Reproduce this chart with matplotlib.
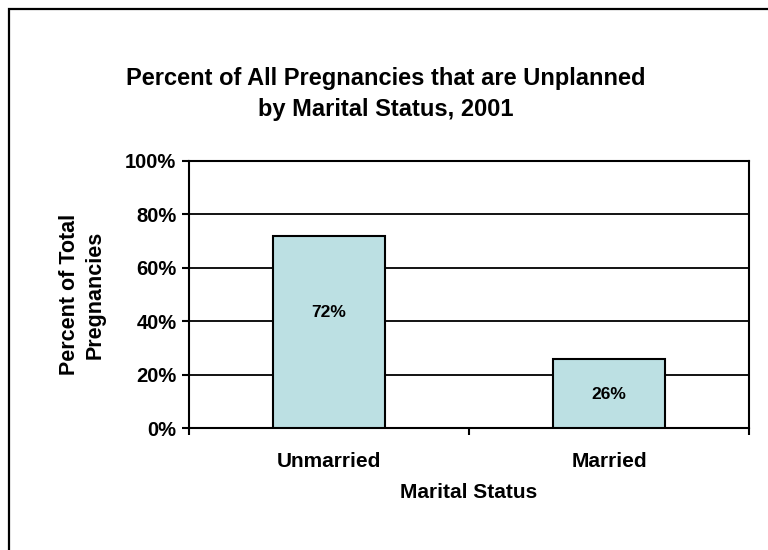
import matplotlib
matplotlib.use('Agg')
import matplotlib.pyplot as plt
from matplotlib.patches import Rectangle

plt.rcParams['font.family'] = ['Liberation Sans', 'DejaVu Sans']
plt.rcParams['font.weight'] = 'bold'

# data
categories = ['Unmarried', 'Married']
values = [72, 26]
bar_labels = ['72%', '26%']
yticks = [0, 20, 40, 60, 80, 100]
ytick_labels = ['0%', '20%', '40%', '60%', '80%', '100%']

fig = plt.figure(figsize=(7.68, 5.5), dpi=100)
ax = fig.add_axes([189/768, 1-428/550, (749-189)/768, (428-161)/550])

x = list(range(len(categories)))
ax.bar(x, values, width=0.4, color='#BCE0E3', edgecolor='black', linewidth=1.5, zorder=3)

# label positions as drawn in the original (not exactly bar centres)
label_pos = [43.4, 12.5]
for xi, yl, t in zip(x, label_pos, bar_labels):
    ax.text(xi, yl, t, ha='center', va='center', fontsize=12.5, fontweight='bold', zorder=4)

ax.set_xlim(-0.5, 1.5)
ax.set_ylim(0, 100)
ax.set_yticks(yticks)
ax.set_yticklabels(ytick_labels, fontsize=14.5, fontweight='bold')
ax.yaxis.grid(True, color='black', lw=1.3, zorder=0)
ax.set_axisbelow(True)

ax.set_xticks([-0.5, 0.5, 1.5])
ax.set_xticklabels([])
ax.set_xticks(x, minor=True)
ax.set_xticklabels(categories, minor=True, fontsize=15, fontweight='bold')
ax.tick_params(axis='x', which='minor', length=0, pad=17)
ax.tick_params(axis='x', which='major', length=5, width=1.5, direction='out')
ax.tick_params(axis='y', length=5, width=1.5, direction='out', pad=4)
for s in ax.spines.values():
    s.set_linewidth(1.5)

ax.set_xlabel('Marital Status', fontsize=15, fontweight='bold', labelpad=9)
ax.set_ylabel('Percent of Total\nPregnancies', fontsize=15.5, fontweight='bold', labelpad=14, linespacing=1.3)

fig.text(386/768, 1-94/550, 'Percent of All Pregnancies that are Unplanned\nby Marital Status, 2001',
         ha='center', va='center', fontsize=17, fontweight='bold', linespacing=1.42)

# chart-area frame (right and bottom edges fall outside the image)
fig.patches.append(Rectangle((9/768, -0.1), 1.2, 1-9/550+0.1, transform=fig.transFigure,
                             fill=False, edgecolor='black', lw=1.6))

fig.savefig('out.png', dpi=100)
